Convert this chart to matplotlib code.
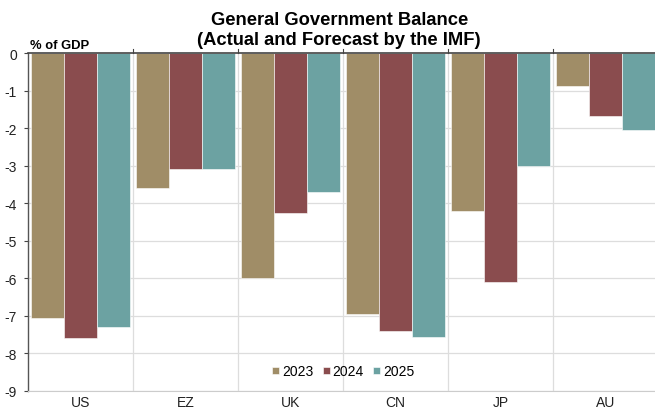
import matplotlib
matplotlib.use("Agg")
import matplotlib.pyplot as plt
import numpy as np

plt.rcParams['font.family'] = ['Liberation Sans', 'DejaVu Sans']

countries = ["US", "EZ", "UK", "CN", "JP", "AU"]
years = ["2023", "2024", "2025"]
bal_2023 = [-7.05, -3.6, -6.0, -6.95, -4.2, -0.87]
bal_2024 = [-7.6, -3.1, -4.25, -7.4, -6.1, -1.67]
bal_2025 = [-7.3, -3.1, -3.7, -7.55, -3.0, -2.05]
colors = ["#A08D67", "#8A4C4E", "#6CA2A2"]

fig = plt.figure(figsize=(6.55, 4.1), dpi=100)
ax = fig.add_axes([0.043, 0.044, 0.962, 0.824])

x = np.arange(len(countries))
w = 0.313
for i, (vals, yr, c) in enumerate(zip([bal_2023, bal_2024, bal_2025], years, colors)):
    ax.bar(x + (i - 1) * w, vals, width=w, color=c, label=yr,
           edgecolor="white", linewidth=0.4, zorder=3)

ax.set_ylim(-9, 0)
ax.set_xlim(-0.5, len(countries) - 0.5)
ax.set_yticks(range(-9, 1))
ax.set_yticklabels([str(v) for v in range(-9, 1)], fontsize=10, color="#222222")

# gridlines: horizontal at each unit, vertical at category boundaries
for yv in range(-9, 0):
    ax.axhline(yv, color="#dddddd", linewidth=0.9, zorder=0)
for xv in np.arange(0.5, len(countries) - 0.5, 1):
    ax.axvline(xv, color="#dddddd", linewidth=0.9, zorder=0)

ax.set_xticks(x)
ax.set_xticklabels(countries, fontsize=10, color="#222222")
ax.tick_params(axis="x", length=0, pad=3)
ax.tick_params(axis="y", length=3, width=0.8, color="#444444", pad=5)

for s in ["top", "right"]:
    ax.spines[s].set_visible(False)
ax.spines["left"].set_color("#555555")
ax.spines["left"].set_linewidth(1.0)
ax.spines["bottom"].set_color("#cccccc")

# zero line with category separators
ax.axhline(0, color="#444444", linewidth=1.2, zorder=4, clip_on=False)
for xv in np.arange(0.5, len(countries) - 0.5, 1):
    ax.plot([xv, xv], [0, 0.1], color="#444444", linewidth=0.8, clip_on=False, zorder=4)

fig.text(0.518, 0.970, "General Government Balance\n(Actual and Forecast by the IMF)",
         ha="center", va="top", fontsize=13.2, fontweight="bold", linespacing=1.22)
fig.text(0.046, 0.873, "% of GDP", ha="left", va="bottom", fontsize=9.4, fontweight="bold")

leg = ax.legend(loc="lower center", bbox_to_anchor=(0.50, 0.0), ncol=3, frameon=False,
                fontsize=10, handlelength=0.5, handleheight=0.5, handletextpad=0.2,
                columnspacing=0.7)

fig.savefig("out.png", dpi=100)
